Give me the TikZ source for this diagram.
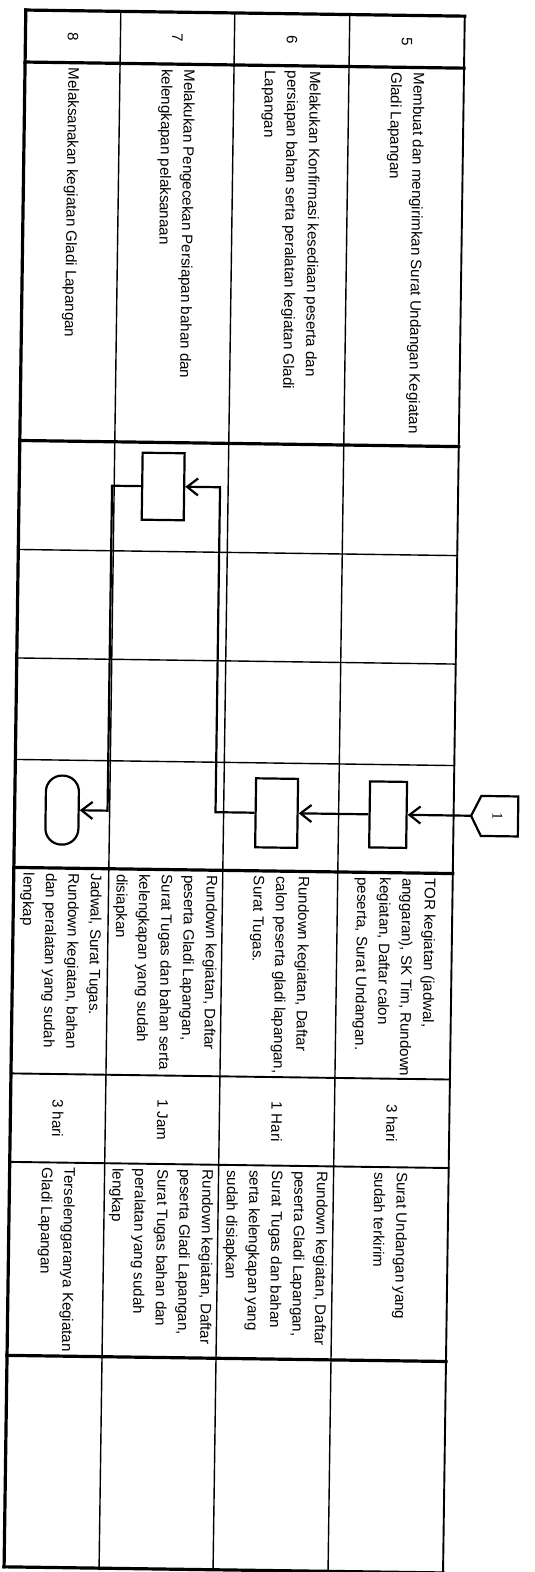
\documentclass[tikz,border=0pt]{standalone}
\usepackage{fontspec}
\setmainfont{Liberation Sans}
\newfontfamily\serifone{Liberation Serif}
\usetikzlibrary{arrows.meta}
\begin{document}
\begin{tikzpicture}[x=1pt,y=-1pt,
  thingrid/.style={line width=1.4pt, line cap=rect},
  midgrid/.style={line width=1.9pt, line cap=rect},
  thickgrid/.style={line width=3.2pt, line cap=rect},
  procbox/.style={draw, line width=2.2pt, inner sep=0pt},
  termbox/.style={draw, line width=2.2pt, inner sep=0pt, rounded corners=16pt},
  flow/.style={line width=2.2pt, -{Straight Barb[length=11pt,width=17pt]}},
  celltext/.style={rotate=-90, anchor=west, align=left, inner sep=0pt, font=\fontsize{15.1}{22.5}\selectfont},
  midtext/.style={rotate=-90, inner sep=0pt, font=\fontsize{15.1}{22.5}\selectfont},
]
\useasboundingbox (0,0) rectangle (535,1572);
\fill[white] (0,0) rectangle (535,1572);
\begin{scope}[rotate around={-0.8:(235,786)}, transform shape]
% horizontal lines
\draw[thickgrid] (15,13) -- (454,13);
\draw[thickgrid] (15,65) -- (454,65);
\draw[thickgrid] (15,443.5) -- (454,443.5);
\draw[thingrid] (15,552.5) -- (454,552.5);
\draw[thingrid] (15,661) -- (454,661);
\draw[thingrid] (15,762.5) -- (454,762.5);
\draw[thickgrid] (15,870.5) -- (454,870.5);
\draw[midgrid] (15,1076.5) -- (454,1076.5);
\draw[midgrid] (15,1165) -- (454,1165);
\draw[thickgrid] (15,1358.5) -- (454,1358.5);
\draw[thickgrid] (15,1570) -- (454,1570);
% vertical lines
\draw[thickgrid] (15,13) -- (15,1570);
\draw[thingrid] (110,13) -- (110,1570);
\draw[thingrid] (224,13) -- (224,1570);
\draw[thingrid] (339,13) -- (339,1570);
\draw[midgrid] (454,13) -- (454,1570);

% numbers
\node[midtext] (n5) at (396.5,39) {5};
\node[midtext] (n6) at (281.5,39) {6};
\node[midtext] (n7) at (167,39) {7};
\node[midtext] (n8) at (62.5,39) {8};

% kegiatan
\node[celltext] (k5) at (396.5,70) {Membuat dan mengirimkan Surat Undangan Kegiatan\\Gladi Lapangan};
\node[celltext] (k6) at (281.5,70) {Melakukan Konfirmasi kesediaan peserta dan\\persiapan bahan serta peralatan kegiatan Gladi\\Lapangan};
\node[celltext] (k7) at (167,70) {Melakukan Pengecekan Persiapan bahan dan\\kelengkapan pelaksanaan};
\node[celltext] (k8) at (62.5,70) {Melaksanakan kegiatan Gladi Lapangan};

% kelengkapan
\node[celltext] (l5) at (396.5,875.5) {TOR kegiatan (jadwal,\\anggaran), SK Tim, Rundown\\kegiatan, Daftar calon\\peserta, Surat Undangan.};
\node[celltext] (l6) at (281.5,875.5) {Rundown kegiatan, Daftar\\calon peserta gladi lapangan,\\Surat Tugas.};
\node[celltext] (l7) at (167,875.5) {Rundown kegiatan, Daftar\\peserta Gladi Lapangan,\\Surat Tugas dan bahan serta\\kelengkapan yang sudah\\disiapkan};
\node[celltext] (l8) at (62.5,875.5) {Jadwal, Surat Tugas.\\Rundown kegiatan, bahan\\dan peralatan yang sudah\\lengkap};

% waktu
\node[midtext] (w5) at (396.5,1120.75) {3 hari};
\node[midtext] (w6) at (281.5,1120.75) {1 Hari};
\node[midtext] (w7) at (167,1120.75) {1 Jam};
\node[midtext] (w8) at (62.5,1120.75) {3 hari};

% output
\node[celltext] (o5) at (396.5,1170) {Surat Undangan yang\\sudah terkirim};
\node[celltext] (o6) at (281.5,1170) {Rundown kegiatan, Daftar\\peserta Gladi Lapangan,\\Surat Tugas dan bahan\\serta kelengkapan yang\\sudah disiapkan};
\node[celltext] (o7) at (167,1170) {Rundown kegiatan, Daftar\\peserta Gladi Lapangan,\\Surat Tugas bahan dan\\peralatan yang sudah\\lengkap};
\node[celltext] (o8) at (62.5,1170) {Terselenggaranya Kegiatan\\Gladi Lapangan};

% flow shapes
\draw[line width=2.2pt, line join=miter] (471.5,812.5) -- (481.5,792.5) -- (518.5,792.5) -- (518.5,832.5) -- (481.5,832.5) -- cycle;
\coordinate (c1tip) at (471.5,812.5);
\node[rotate=-90, inner sep=0pt, font=\serifone\fontsize{15}{18}\selectfont] (c1) at (498,812.5) {1};
\node[procbox, minimum width=37pt, minimum height=66pt] (b1) at (388.5,812.5) {};
\node[procbox, minimum width=42pt, minimum height=69pt] (b2) at (277,812.5) {};
\node[procbox, minimum width=42pt, minimum height=67pt] (b3) at (159,487.5) {};
\node[termbox, minimum width=33pt, minimum height=69pt] (t) at (62.5,812.5) {};

\draw[flow] (c1tip) -- (b1.east);
\draw[flow] (b1.west) -- (b2.east);
\draw[flow] (b2.west) -- ++(-39,0) |- (b3.east);
\draw[flow] (b3.west) -- ++(-29,0) |- (t.east);
\end{scope}
\end{tikzpicture}
\end{document}
